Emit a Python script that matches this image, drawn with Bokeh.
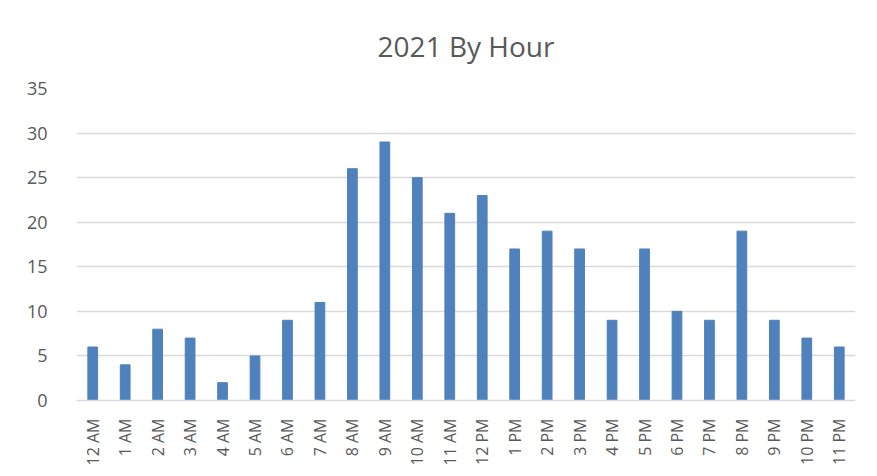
import math
from bokeh.plotting import figure
from bokeh.models import Range1d, FixedTicker, BoxAnnotation
from bokeh.embed import file_html
from bokeh.resources import INLINE

hours = ["12 AM", "1 AM", "2 AM", "3 AM", "4 AM", "5 AM", "6 AM", "7 AM",
         "8 AM", "9 AM", "10 AM", "11 AM", "12 PM", "1 PM", "2 PM", "3 PM",
         "4 PM", "5 PM", "6 PM", "7 PM", "8 PM", "9 PM", "10 PM", "11 PM"]
counts = [6, 4, 8, 7, 2, 5, 9, 11, 26, 29, 25, 21, 23, 17, 19, 17, 9, 17, 10, 9, 19, 9, 7, 6]
y_ticks = [0, 5, 10, 15, 20, 25, 30, 35]

FONT = "Open Sans"
GREY = "#595959"

p = figure(x_range=hours, y_range=Range1d(0, 35), width=869, height=468,
           output_backend="svg", toolbar_location=None,
           min_border_left=76, min_border_right=14, min_border_top=88, min_border_bottom=68)

p.vbar(x=hours, top=counts, width=0.3, color="#4f81bd", line_color="#4f81bd")

p.title.text = "2021 By Hour"
p.title.align = "center"
p.title.text_font = FONT
p.title.text_font_size = "28px"
p.title.text_font_style = "normal"
p.title.text_color = GREY
p.title.standoff = 47

p.outline_line_color = None
p.xgrid.grid_line_color = None
p.ygrid.grid_line_color = "#d9d9d9"
p.ygrid.grid_line_width = 1.5

# chart-area border (only left and top edges fall inside the picture)
p.add_layout(BoxAnnotation(left=-72, right=900, bottom=-200, top=394,
                           left_units="screen", right_units="screen",
                           bottom_units="screen", top_units="screen",
                           fill_color=None, line_color="#d9d9d9", line_width=2,
                           level="underlay", editable=False))

p.yaxis.ticker = FixedTicker(ticks=y_ticks)
p.yaxis.axis_line_color = None
p.yaxis.major_tick_line_color = None
p.yaxis.minor_tick_line_color = None
p.yaxis.major_label_text_font = FONT
p.yaxis.major_label_text_font_size = "18px"
p.yaxis.major_label_text_color = GREY
p.yaxis.major_label_standoff = 23

p.xaxis.axis_line_color = "#d9d9d9"
p.xaxis.axis_line_width = 1.5
p.xaxis.major_tick_line_color = None
p.xaxis.minor_tick_line_color = None
p.xaxis.major_label_orientation = math.pi / 2
p.xaxis.major_label_text_font = FONT
p.xaxis.major_label_text_font_size = "16px"
p.xaxis.major_label_text_color = GREY
p.xaxis.major_label_standoff = 12
p.x_range.range_padding = 0

open("out.html", "w").write(file_html(p, INLINE))
